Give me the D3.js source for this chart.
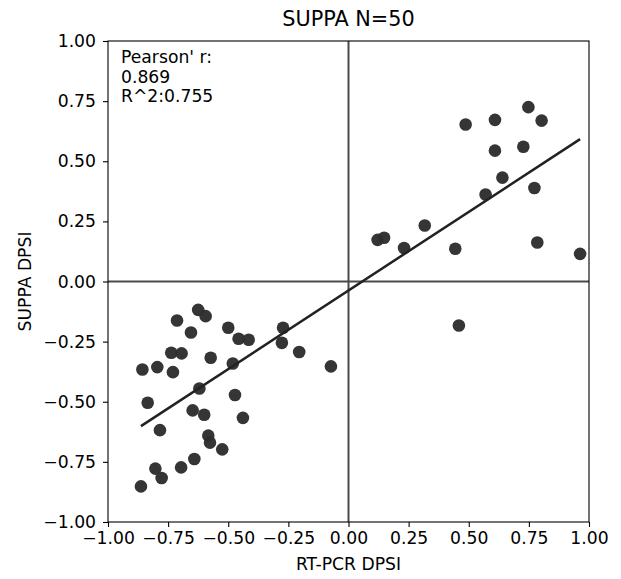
<!DOCTYPE html>
<html>
<head>
<meta charset="utf-8">
<script src="https://cdn.jsdelivr.net/npm/d3@7"></script>
<style>
  html, body { margin: 0; padding: 0; background: #fff; }
  svg { display: block; font-family: "DejaVu Sans", sans-serif; }
</style>
</head>
<body>
<div id="chart"></div>
<script>
// RT-PCR measured ΔPSI vs SUPPA predicted ΔPSI for 50 events
const rtpcrDpsi = [
  -0.625, -0.594, -0.713, -0.655, -0.500, -0.457, -0.415, -0.272, -0.277, -0.205,
  -0.073, -0.737, -0.694, -0.573, -0.857, -0.795, -0.730, -0.481, -0.620, -0.835,
  -0.472, -0.648, -0.600, -0.439, -0.784, -0.583, -0.576, -0.525, -0.641, -0.696,
  -0.803, -0.777, -0.863,  0.748,  0.609,  0.803,  0.487,  0.609,  0.727,  0.640,
   0.773,  0.570,  0.317,  0.121,  0.148,  0.231,  0.444,  0.785,  0.963,  0.459
];
const suppaDpsi = [
  -0.118, -0.144, -0.162, -0.212, -0.192, -0.238, -0.242, -0.192, -0.255, -0.293,
  -0.353, -0.296, -0.299, -0.317, -0.366, -0.356, -0.377, -0.341, -0.445, -0.504,
  -0.472, -0.536, -0.554, -0.567, -0.618, -0.641, -0.670, -0.698, -0.738, -0.773,
  -0.778, -0.817, -0.852,  0.725,  0.672,  0.669,  0.653,  0.544,  0.560,  0.432,
   0.389,  0.362,  0.233,  0.173,  0.182,  0.139,  0.136,  0.162,  0.115, -0.183
];
const tickValues = [-1.00, -0.75, -0.50, -0.25, 0.00, 0.25, 0.50, 0.75, 1.00];
const titleText = "SUPPA N=50";
const xLabel = "RT-PCR DPSI";
const yLabel = "SUPPA DPSI";
const statLines = ["Pearson' r:", "0.869", "R^2:0.755"];

const W = 621, H = 579;
const margin = { left: 108, top: 41, right: 32, bottom: 57 };
const pw = W - margin.left - margin.right;
const ph = H - margin.top - margin.bottom;
const fs = 17.2;

const svg = d3.select("#chart").append("svg")
  .attr("width", W).attr("height", H);

const x = d3.scaleLinear().domain([-1, 1]).range([0, pw]);
const y = d3.scaleLinear().domain([-1, 1]).range([ph, 0]);

const g = svg.append("g").attr("transform", `translate(${margin.left},${margin.top})`);

// zero reference lines
g.append("line")
  .attr("x1", x(-1)).attr("x2", x(1)).attr("y1", y(0)).attr("y2", y(0))
  .attr("stroke", "#4a4a4a").attr("stroke-width", 2);
g.append("line")
  .attr("x1", x(0)).attr("x2", x(0)).attr("y1", y(-1)).attr("y2", y(1))
  .attr("stroke", "#4a4a4a").attr("stroke-width", 2);

// least-squares fit over the observed x range
const data = rtpcrDpsi.map((v, i) => ({ x: v, y: suppaDpsi[i] }));
const mx = d3.mean(data, d => d.x), my = d3.mean(data, d => d.y);
const slope = d3.sum(data, d => (d.x - mx) * (d.y - my)) / d3.sum(data, d => (d.x - mx) ** 2);
const intercept = my - slope * mx;
const [xmin, xmax] = d3.extent(rtpcrDpsi);

// points
g.append("g").selectAll("circle").data(data).join("circle")
  .attr("cx", d => x(d.x)).attr("cy", d => y(d.y)).attr("r", 6.3)
  .attr("fill", "#2e2e2e").attr("fill-opacity", 0.97);

g.append("line")
  .attr("x1", x(xmin)).attr("y1", y(intercept + slope * xmin))
  .attr("x2", x(xmax)).attr("y2", y(intercept + slope * xmax))
  .attr("stroke", "#222").attr("stroke-width", 2.5);

// frame
g.append("rect").attr("x", 0).attr("y", 0).attr("width", pw).attr("height", ph)
  .attr("fill", "none").attr("stroke", "#000").attr("stroke-width", 1.1);

// axes
const fmt = d3.format(".2f");
const xAxis = g.append("g").attr("transform", `translate(0,${ph})`)
  .call(d3.axisBottom(x).tickValues(tickValues).tickFormat(fmt).tickSizeOuter(0).tickSize(5).tickPadding(5));
const yAxis = g.append("g")
  .call(d3.axisLeft(y).tickValues(tickValues).tickFormat(fmt).tickSizeOuter(0).tickSize(5).tickPadding(7));
[xAxis, yAxis].forEach(a => {
  a.select(".domain").remove();
  a.selectAll(".tick line").attr("stroke", "#000").attr("stroke-width", 1.1);
  a.selectAll(".tick text").attr("fill", "#000")
    .style("font-family", "'DejaVu Sans', sans-serif").style("font-size", fs + "px");
});

// labels
svg.append("text").attr("x", margin.left + pw / 2).attr("y", 26)
  .attr("text-anchor", "middle").style("font-size", "20.8px").text(titleText);
svg.append("text").attr("x", margin.left + pw / 2).attr("y", 570)
  .attr("text-anchor", "middle").style("font-size", fs + "px").text(xLabel);
svg.append("text").attr("transform", `translate(31,${margin.top + ph / 2}) rotate(-90)`)
  .attr("text-anchor", "middle").style("font-size", fs + "px").text(yLabel);

// correlation annotation
const ann = svg.append("text").attr("x", margin.left + 13).attr("y", 63)
  .style("font-size", fs + "px");
statLines.forEach((t, i) => {
  ann.append("tspan").attr("x", margin.left + 13).attr("dy", i === 0 ? 0 : 19.5).text(t);
});
</script>
</body>
</html>
